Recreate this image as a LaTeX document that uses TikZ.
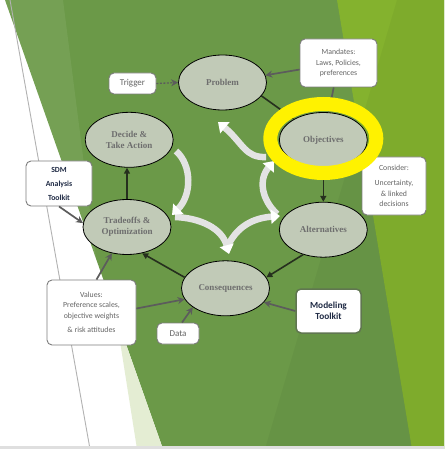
\documentclass[tikz,border=0pt]{standalone}
\usepackage{fontspec}
\setmainfont{Liberation Serif}
\newfontfamily\calibri{Carlito}
\usepackage{tikz}
\usetikzlibrary{arrows.meta, positioning, shapes.geometric}
\usepackage[svgnames]{xcolor}

\definecolor{slide}{RGB}{107,153,72}
\definecolor{lime}{RGB}{132,178,46}
\definecolor{pale}{RGB}{228,237,211}
\definecolor{stagefill}{RGB}{193,202,183}
\definecolor{stagetext}{RGB}{110,110,110}
\definecolor{boxtext}{RGB}{100,100,100}
\definecolor{navy}{RGB}{31,42,68}
\definecolor{flow}{RGB}{38,48,30}
\definecolor{feed}{RGB}{92,92,92}
\definecolor{kitedge}{RGB}{96,118,80}

\begin{document}
\begin{tikzpicture}[x=1pt, y=-1pt,
  stage/.style={ellipse, draw=black, line width=0.8pt, fill=stagefill, minimum width=88pt,
    minimum height=55pt, inner sep=0pt, align=center, text=stagetext,
    font=\bfseries\fontsize{9}{11}\selectfont},
  note/.style={draw=feed!80, line width=0.9pt, rounded corners=5pt, fill=white, inner sep=0pt,
    align=center, text=boxtext, font=\calibri\fontsize{7.8}{10.5}\selectfont},
  kit/.style={note, text=navy, font=\calibri\bfseries\fontsize{7.8}{14}\selectfont},
  flowarrow/.style={draw=flow, line width=1.6pt, -{Triangle[length=6pt, width=6pt]}},
  feedarrow/.style={draw=feed, line width=1.7pt, -{Stealth[length=7pt, width=7pt]}},
  ribbon/.style={draw=gray!22, line width=6.5pt, -{Triangle[length=9pt, width=14pt, color=white]}}
]
  \useasboundingbox (0,0) rectangle (444,449);
  % Slide background
  \fill[white] (0,0) rectangle (444,449);
  \fill[slide] (5,0) -- (444,0) -- (444,449) -- (163,449) -- cycle;
  \fill[white, opacity=0.07] (5,0) -- (63,0) -- (96,258) -- cycle;
  \fill[pale] (116,316) -- (163,449) -- (137,449) -- cycle;
  \fill[lime] (337,0) -- (444,0) -- (444,449) -- (412,449) -- cycle;
  \fill[black, opacity=0.04] (397,0) -- (444,0) -- (444,449) -- (265,449) -- cycle;
  \draw[gray!60, line width=0.9pt] (10,0) -- (90,449);
  \fill[gray!25] (0,446) rectangle (444,449);

  % Feedback ribbons
  \coordinate (r1a) at (266,157); \coordinate (r1b) at (218,122);
  \coordinate (r2a) at (277,214); \coordinate (r2b) at (274,161);
  \coordinate (r3a) at (226,250); \coordinate (r3b) at (280,216);
  \coordinate (r4a) at (175,217); \coordinate (r4b) at (229,254);
  \coordinate (r5a) at (176,151); \coordinate (r5b) at (172,215);
  \draw[ribbon] (r1a) .. controls (245,158) and (243,143) .. (r1b);
  \draw[ribbon] (r2a) .. controls (262,200) and (258,180) .. (r2b);
  \draw[ribbon] (r3a) .. controls (236,225) and (255,218) .. (r3b);
  \draw[ribbon] (r4a) .. controls (200,218) and (222,228) .. (r4b);
  \draw[ribbon] (r5a) .. controls (192,165) and (192,195) .. (r5b);

  % Stages of the cycle
  \node[stage] (prob)   at (222.5,82.5) {Problem};
  \node[stage] (obj)    at (323.3,140)  {Objectives};
  \node[stage] (alt)    at (323.3,229.7) {Alternatives};
  \node[stage] (cons)   at (225.5,288.3) {Consequences};
  \node[stage] (trade)  at (127,227)    {Tradeoffs \&\\Optimization};
  \node[stage] (decide) at (129.2,139.8) {Decide \&\\Take Action};

  % Side boxes
  \node[note, minimum width=47pt, minimum height=21pt, font=\calibri\fontsize{9}{11}\selectfont]
    (trig) at (132.5,83.5) {Trigger};
  \node[note, minimum width=77pt, minimum height=48pt] (mand) at (338.5,63)
    {Mandates:\\Laws, Policies,\\preferences};
  \node[note, minimum width=64pt, minimum height=58pt] (consider) at (394,186)
    {Consider:\\[5pt]Uncertainty,\\\& linked\\decisions};
  \node[kit, minimum width=66pt, minimum height=45pt] (sdm) at (59,183.5)
    {SDM\\Analysis\\Toolkit};
  \node[note, minimum width=89pt, minimum height=65pt] (val) at (91.5,312.5)
    {Values:\\Preference scales,\\objective weights\\[4pt]\& risk attitudes};
  \node[note, minimum width=42pt, minimum height=21pt, font=\calibri\fontsize{9}{11}\selectfont]
    (data) at (178,333.5) {Data};
  \node[kit, draw=kitedge, line width=1.5pt, minimum width=65pt, minimum height=44pt,
    font=\calibri\bfseries\fontsize{9.3}{11.3}\selectfont] (model) at (328.5,311)
    {Modeling\\Toolkit};

  % Main cycle
  \draw[flowarrow] (prob.-19) -- (obj);
  \draw[flowarrow] (obj) -- (alt);
  \draw[flowarrow] (alt.-129) -- (cons.15);
  \draw[flowarrow] (cons.165) -- (trade.-60);
  \draw[flowarrow] (trade.north) -- (trade.north |- decide.south);

  % Inputs
  \draw[feedarrow, line width=1.3pt, dash pattern=on 2pt off 1.5pt] (trig.east) -- (prob.west);
  \draw[feedarrow] (mand) -- (prob);
  \draw[feedarrow] (mand) -- (obj);
  \draw[feedarrow] (sdm.south) -- (trade.175);
  \draw[feedarrow] ([xshift=5pt]val.north) -- (trade.-120);
  \draw[feedarrow] ([yshift=4pt]val.east) -- (cons.195);
  \draw[feedarrow] ([xshift=4pt]data.north) -- (cons.-150);
  \draw[feedarrow] (model.west) -- (cons.-20);

  % Highlight round Objectives
  \draw[yellow, line width=14pt] ([yshift=1.5pt]obj.center) ellipse [x radius=53pt, y radius=34.5pt];
\end{tikzpicture}
\end{document}
